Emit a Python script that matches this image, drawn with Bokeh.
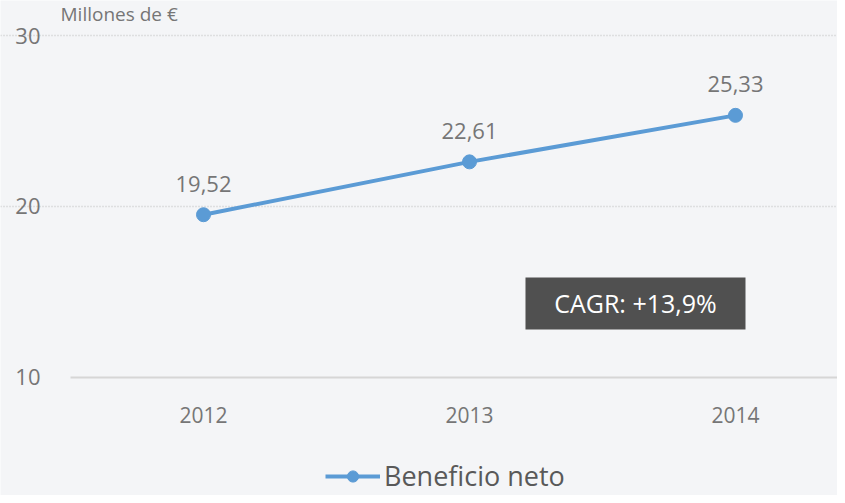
from bokeh.plotting import figure
from bokeh.models import (ColumnDataSource, Range1d, FixedTicker, Label, BoxAnnotation,
                          Legend, LegendItem)
from bokeh.core.properties import value
from bokeh.embed import file_html
from bokeh.resources import INLINE

years = ["2012", "2013", "2014"]
beneficio = [19.52, 22.61, 25.33]
beneficio_labels = ["19,52", "22,61", "25,33"]
y_ticks = [10, 20, 30]
series_name = "Beneficio neto"
unit_label = "Millones de €"
cagr_text = "CAGR: +13,9%"

FONT = "Open Sans"
BG = "#f4f5f7"
BLUE = "#5b9bd5"
GREY = "#767676"

xs = list(range(len(years)))
src = ColumnDataSource(dict(x=xs, y=beneficio, lab=beneficio_labels))

p = figure(width=837, height=495, output_backend="svg", toolbar_location=None,
           x_range=Range1d(-0.7632, 2.3835), y_range=Range1d(3.099, 32.047),
           min_border_left=0, min_border_right=0, min_border_top=0, min_border_bottom=0)
p.background_fill_color = BG
p.border_fill_color = BG
p.outline_line_color = None

# axes drawn inside the frame
p.yaxis.fixed_location = -0.5
p.yaxis.ticker = FixedTicker(ticks=y_ticks)
p.yaxis.axis_line_color = None
p.yaxis.major_tick_line_color = None
p.yaxis.minor_tick_line_color = None
p.yaxis.major_label_text_font = FONT
p.yaxis.major_label_text_font_size = "22px"
p.yaxis.major_label_text_color = GREY
p.yaxis.major_label_standoff = 24

p.xaxis.fixed_location = 10
p.xaxis.ticker = FixedTicker(ticks=xs)
p.xaxis.major_label_overrides = {i: y for i, y in enumerate(years)}
p.xaxis.axis_line_color = None
p.xaxis.major_tick_line_color = None
p.xaxis.minor_tick_line_color = None
p.xaxis.major_label_text_font = FONT
p.xaxis.major_label_text_font_size = "21px"
p.xaxis.major_label_text_color = GREY
p.xaxis.major_label_standoff = 24

p.xgrid.grid_line_color = None
p.ygrid.ticker = FixedTicker(ticks=[20, 30])
p.ygrid.grid_line_color = "#c8c8c8"
p.ygrid.grid_line_dash = "1 2"
p.ygrid.grid_line_width = 1.5
p.ygrid.bounds = (-0.5, 3)

# baseline at 10
p.segment(x0=[-0.5], y0=[y_ticks[0]], x1=[3], y1=[y_ticks[0]], line_color="#d6d6d6", line_width=2)

# series
r_line = p.line("x", "y", source=src, line_color=BLUE, line_width=4)
r_pts = p.scatter("x", "y", source=src, size=14, fill_color=BLUE, line_color=BLUE)
p.text("x", "y", text="lab", source=src, text_align="center", text_baseline="alphabetic",
       y_offset=-31, text_font_size="22px", text_color=GREY, text_font=value(FONT))

# unit label
p.add_layout(Label(x=60, y=469, x_units="screen", y_units="screen", text=unit_label,
                   text_font=FONT, text_font_size="19px", text_color=GREY,
                   text_baseline="bottom"))

# CAGR box
p.add_layout(BoxAnnotation(left=1.2105, right=2.0376, bottom=12.81, top=15.85,
                           fill_color="#505050", fill_alpha=1, line_color=None))
p.add_layout(Label(x=1.624, y=14.33, text=cagr_text, text_align="center",
                   text_baseline="middle", text_font=FONT, text_font_size="25px",
                   text_color="white"))

legend = Legend(items=[LegendItem(label=series_name, renderers=[r_line, r_pts])],
                location=(325, 1), orientation="horizontal",
                background_fill_alpha=0, border_line_color=None,
                label_text_font=FONT, label_text_font_size="27px", label_text_color="#595959",
                glyph_width=55, glyph_height=28, label_standoff=4, padding=0, margin=0)
p.add_layout(legend)

open("out.html", "w").write(file_html(p, INLINE))
